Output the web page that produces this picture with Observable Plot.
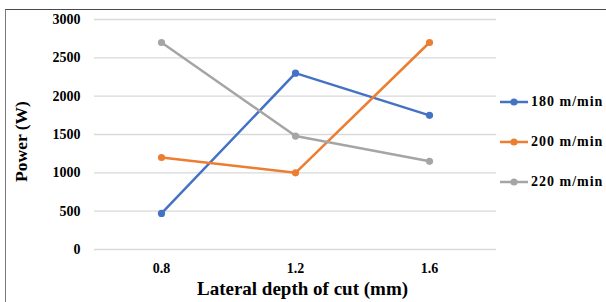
<!DOCTYPE html>
<html>
<head>
<meta charset="utf-8">
<script src="https://cdn.jsdelivr.net/npm/d3@7"></script>
<script src="https://cdn.jsdelivr.net/npm/@observablehq/plot@0.6"></script>
<style>
  html, body { margin: 0; padding: 0; background: #fff; }
  #wrap { position: relative; width: 606px; height: 302px; overflow: hidden; background: #fff;
          font-family: "Liberation Serif", "Times New Roman", serif; font-weight: bold; }
  #frame { position: absolute; left: 5px; top: 9px; width: 620px; height: 320px;
           border-top: 1.5px solid #4a4a4a; border-left: 1.5px solid #7a7a7a; box-sizing: border-box; }
  #legend { position: absolute; left: 500px; top: 0; }
  .item { position: absolute; left: 0; display: flex; align-items: center; white-space: nowrap;
          font-size: 14px; letter-spacing: 1px; color: #000; }
  .item svg { display: block; margin-right: 3px; }
</style>
</head>
<body>
<div id="wrap">
  <div id="frame"></div>
  <div id="chart"></div>
  <div id="legend"></div>
</div>
<script>
const categories = ["0.8", "1.2", "1.6"];
const series = ["180 m/min", "200 m/min", "220 m/min"];
const power180 = [470, 2300, 1750];
const power200 = [1200, 1000, 2700];
const power220 = [2700, 1480, 1150];
const yTicks = [0, 500, 1000, 1500, 2000, 2500, 3000];
const colors = ["#4472C4", "#ED7D31", "#A5A5A5"];
const xTitle = "Lateral depth of cut (mm)";
const yTitle = "Power (W)";

const seriesValues = [power180, power200, power220];
const data = series.flatMap((s, i) =>
  categories.map((c, j) => ({ depth: c, power: seriesValues[i][j], series: s }))
);

const chart = Plot.plot({
  width: 606,
  height: 302,
  marginLeft: 94,
  marginRight: 110,
  marginTop: 19,
  marginBottom: 53,
  style: {
    fontFamily: "'Liberation Serif', 'Times New Roman', serif",
    fontWeight: "bold",
    fontSize: "14px",
    color: "#000",
    background: "transparent",
    overflow: "visible"
  },
  x: { type: "point", domain: categories, padding: 0.5 },
  y: { domain: [0, 3000] },
  color: { domain: series, range: colors },
  marks: [
    Plot.ruleY(yTicks, { stroke: "#d9d9d9", strokeWidth: 1.3 }),
    Plot.axisY({ ticks: yTicks, tickFormat: d3.format("d"), tickSize: 0, tickPadding: 14, label: null, letterSpacing: 1, fill: "#000" }),
    Plot.axisX({ tickSize: 0, tickPadding: 14, label: null, letterSpacing: 0.8, fill: "#000" }),
    Plot.lineY(data, { x: "depth", y: "power", stroke: "series", strokeWidth: 2.5, z: "series" }),
    Plot.dot(data, { x: "depth", y: "power", fill: "series", r: 3.6 }),
    Plot.text([xTitle], { text: d => d, frameAnchor: "bottom", lineAnchor: "middle", textAnchor: "middle", dx: 7, dy: 39, fontSize: 19, fontWeight: "bold", fill: "#000" }),
    Plot.text([yTitle], { text: d => d, frameAnchor: "left", lineAnchor: "middle", textAnchor: "middle", dx: -73, dy: 7, rotate: -90, fontSize: 17.5, fontWeight: "bold", fill: "#000" })
  ]
});
document.getElementById("chart").appendChild(chart);

const legend = document.getElementById("legend");
const legendY = [102, 142, 182];
series.forEach((s, i) => {
  const item = document.createElement("div");
  item.className = "item";
  item.style.top = (legendY[i] - 9) + "px";
  item.style.height = "18px";
  item.innerHTML =
    `<svg width="28" height="10"><line x1="0" y1="5" x2="28" y2="5" stroke="${colors[i]}" stroke-width="2.5"/>` +
    `<circle cx="14" cy="5" r="3.6" fill="${colors[i]}"/></svg><span>${s}</span>`;
  legend.appendChild(item);
});
</script>
</body>
</html>
